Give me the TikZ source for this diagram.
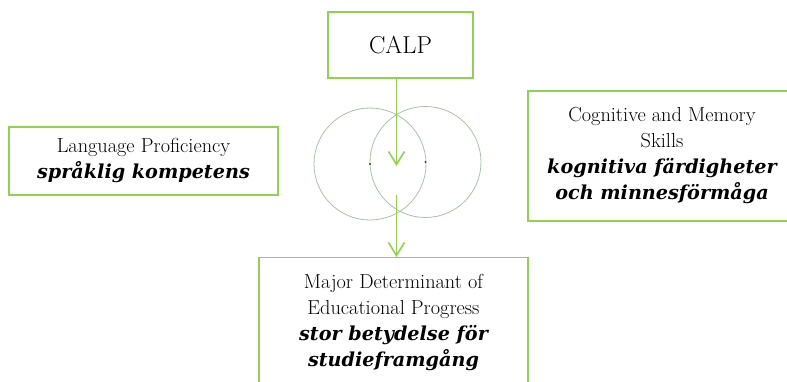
\documentclass[tikz,border=0pt]{standalone}
\usepackage{fontspec}
\usetikzlibrary{arrows.meta}
\newfontfamily\swfamily{DejaVu Serif}
\definecolor{boxgreen}{HTML}{92D050}
\definecolor{ringgray}{HTML}{A8C2A8}
\definecolor{dotbrown}{HTML}{5A3434}
\newcommand{\entext}{\fontsize{20.3}{26}\selectfont}
\newcommand{\svtext}{\fontsize{19.2}{26}\selectfont\swfamily\bfseries\itshape}
\begin{document}
\begin{tikzpicture}[x=1pt,y=-1pt,
  box/.style={draw=boxgreen, line width=1.3pt, fill=white, inner sep=0pt,
    align=center, font=\entext},
  ring/.style={draw=ringgray, line width=0.8pt, circle, inner sep=0pt, minimum size=#1},
  flow/.style={draw=boxgreen, line width=1.6pt,
    -{Straight Barb[length=13pt,width=16pt]}},
  centre/.style={fill=dotbrown, circle, inner sep=0pt, minimum size=2.2pt}
]
\useasboundingbox (0,0) rectangle (787,381);

% overlapping circles with their centres
\node[ring=112] (lc) at (370,164) {};
\node[ring=111] (rc) at (425.5,162) {};
\node[centre] (lcdot) at (lc.center) {};
\node[centre] (rcdot) at (rc.center) {};

% boxes
\node[box, minimum width=145, minimum height=66, font=\fontsize{24.5}{26}\selectfont]
  (calp) at (400.5,45) {CALP};
\node[box, minimum width=269, minimum height=68] (lang) at (143.5,161)
  {Language Proficiency\\{\svtext språklig kompetens}};
\node[box, minimum width=268, minimum height=130] (cog) at (662,156)
  {Cognitive and Memory\\Skills\\{\svtext kognitiva färdigheter}\\{\svtext och minnesförmåga}};
\node[box, minimum width=269, minimum height=130, anchor=north] (major) at (393.5,257)
  {Major Determinant of\\Educational Progress\\{\svtext stor betydelse för}\\{\svtext studieframgång}};

% flow through the overlap
\coordinate (inA) at (396.5,166);
\coordinate (outA) at (396.5,195);
\draw[flow] (calp.south -| inA) -- (inA);
\draw[flow] (outA) -- (major.north -| outA);
\end{tikzpicture}
\end{document}
